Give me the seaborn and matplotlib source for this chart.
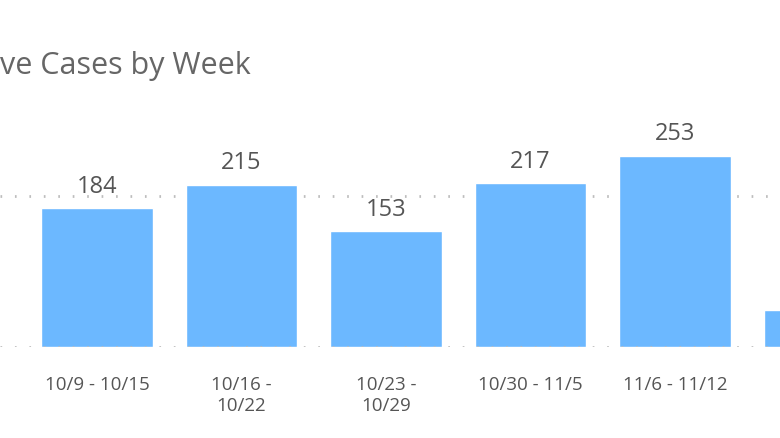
import numpy as np
import pandas as pd
import matplotlib
matplotlib.use("Agg")
import matplotlib.pyplot as plt
import seaborn as sns

weeks = ["10/9 - 10/15", "10/16 -\n10/22", "10/23 -\n10/29", "10/30 - 11/5", "11/6 - 11/12", "11/13 - 11/19"]
cases = [184, 215, 153, 217, 253, 49]
n_visible = 5  # the last week is cut off at the right edge of the picture

df = pd.DataFrame({"week": weeks, "cases": cases})

sns.set_theme(style="white")
plt.rcParams['font.family'] = ['Open Sans', 'DejaVu Sans']

fig = plt.figure(figsize=(7.8, 4.39), dpi=100)
ax = fig.add_axes([0, 91 / 439, 1, 248 / 439])

sns.barplot(data=df, x="week", y="cases", color="#6cb8ff", saturation=1,
            width=0.775, ax=ax, zorder=2)

# dotted gridlines
ax.axhline(200, color="#bdbdbd", linestyle=(0, (0.6, 4.6)), linewidth=2, zorder=1)
ax.axhline(0, color="#bdbdbd", linestyle=(0, (0.6, 4.6)), linewidth=2, zorder=3)

for i, v in enumerate(cases[:n_visible]):
    ax.text(i, v + 14, str(v), ha="center", va="bottom", fontsize=17, color="#555555")

ax.set_xticks(range(len(weeks)))
ax.set_xticklabels(weeks[:n_visible] + [""] * (len(weeks) - n_visible))
ax.set_xlim(-97 / 144.5, (780 - 97) / 144.5)
ax.set_ylim(0, 248 / 0.755)
ax.set_xlabel("")
ax.set_ylabel("")
ax.set_yticks([])
ax.tick_params(axis="x", length=0, pad=20, labelsize=13.5, labelcolor="#555555")
for s in ax.spines.values():
    s.set_visible(False)

fig.text(0.0, 1 - 66 / 439, "ve Cases by Week", fontsize=22, color="#666666",
         ha="left", va="center")

fig.savefig("out.png", dpi=100)
